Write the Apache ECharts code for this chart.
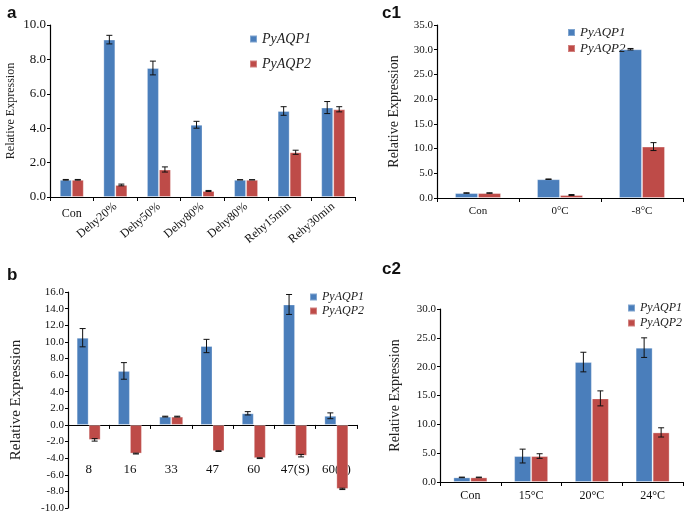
<!DOCTYPE html>
<html>
<head>
<meta charset="utf-8">
<script src="https://cdn.jsdelivr.net/npm/echarts@6/dist/echarts.min.js"></script>
<style>
  html, body { margin: 0; padding: 0; background: #fff; }
  #main { width: 685px; height: 516px; }
</style>
</head>
<body>
<div id="main"></div>
<script>
// panel a: dehydration / rehydration
var catA = ['Con', 'Dehy20%', 'Dehy50%', 'Dehy80%', 'Dehy80%', 'Rehy15min', 'Rehy30min'];
var a1 = [1.0, 9.15, 7.5, 4.2, 1.0, 5.0, 5.2];
var a1Err = [0.02, 0.25, 0.4, 0.2, 0.0, 0.25, 0.35];
var a2 = [1.0, 0.7, 1.6, 0.35, 1.0, 2.6, 5.1];
var a2Err = [0.02, 0.05, 0.15, 0.03, 0.0, 0.12, 0.15];

// panel b
var catB = ['8', '16', '33', '47', '60', '47(S)', '60(S)'];
var b1 = [10.5, 6.5, 1.0, 9.5, 1.4, 14.5, 1.1];
var b1Err = [1.1, 1.0, 0.05, 0.8, 0.2, 1.2, 0.35];
var b2 = [-1.8, -3.45, 1.0, -3.15, -4.0, -3.7, -7.7];
var b2Err = [0.15, 0.05, 0.05, 0.05, 0.05, 0.15, 0.08];

// panel c1: low temperature
var catC1 = ['Con', '0°C', '-8°C'];
var c11 = [1.0, 3.8, 30.1];
var c11Err = [0.05, 0.05, 0.15];
var c12 = [1.0, 0.6, 10.4];
var c12Err = [0.05, 0.1, 0.8];

// panel c2: high temperature
var catC2 = ['Con', '15°C', '20°C', '24°C'];
var c21 = [0.8, 4.5, 20.8, 23.3];
var c21Err = [0.05, 1.2, 1.7, 1.7];
var c22 = [0.8, 4.5, 14.5, 8.6];
var c22Err = [0.05, 0.4, 1.3, 0.8];

var BLUE = '#4a7ebb';
var RED = '#be4b48';
var SERIF = '"Liberation Serif", "DejaVu Serif", serif';

var chart = echarts.init(document.getElementById('main'));

function bar(name, vals, gi, color, w) {
    return {
        name: name,
        type: 'bar',
        xAxisIndex: gi,
        yAxisIndex: gi,
        data: vals,
        barWidth: w,
        barGap: '0%',
        itemStyle: { color: color, borderColor: 'rgba(255,255,255,0.3)', borderWidth: 1 },
        emphasis: { disabled: true },
        silent: true
    };
}

function errBars(vals, errs, gi, off) {
    return {
        type: 'custom',
        xAxisIndex: gi,
        yAxisIndex: gi,
        silent: true,
        z: 5,
        data: vals.map(function (v, i) { return [i, v, errs[i]]; }),
        encode: { x: 0, y: 1 },
        renderItem: function (params, api) {
            var i = api.value(0), v = api.value(1), e = api.value(2);
            var hi = api.coord([i, v + e]);
            var lo = api.coord([i, v - e]);
            var x = hi[0] + off;
            var st = { stroke: '#111', lineWidth: 1 };
            return {
                type: 'group',
                children: [
                    { type: 'line', shape: { x1: x, y1: hi[1], x2: x, y2: lo[1] }, style: st },
                    { type: 'line', shape: { x1: x - 3, y1: hi[1], x2: x + 3, y2: hi[1] }, style: st },
                    { type: 'line', shape: { x1: x - 3, y1: lo[1], x2: x + 3, y2: lo[1] }, style: st }
                ]
            };
        }
    };
}

function yAx(gi, min, max, step, fs, nameSize, nameGap) {
    return {
        type: 'value',
        gridIndex: gi,
        min: min, max: max, interval: step,
        name: 'Relative Expression',
        nameLocation: 'middle',
        nameGap: nameGap,
        nameTextStyle: { fontFamily: SERIF, fontSize: nameSize, color: '#222' },
        splitLine: { show: false },
        axisLine: { show: true, lineStyle: { color: '#000', width: 1.2 } },
        axisTick: { show: true, length: 3, lineStyle: { color: '#000' } },
        axisLabel: {
            fontFamily: SERIF, fontSize: fs, color: '#111', margin: 4,
            formatter: function (v) { return v.toFixed(1); }
        }
    };
}

function xAx(gi, cats, fs, extra) {
    var ax = {
        type: 'category',
        gridIndex: gi,
        position: 'bottom',
        data: cats,
        axisLine: { lineStyle: { color: '#000', width: 1.2 } },
        axisTick: { show: true, length: 4, lineStyle: { color: '#000' } },
        axisLabel: { fontFamily: SERIF, fontSize: fs, color: '#111', margin: 8 }
    };
    if (extra) {
        for (var k in extra) { ax.axisLabel[k] = extra[k]; }
    }
    return ax;
}

// label-only copy of a category axis (no line, no ticks)
function labelAx(gi, cats, fs, extra) {
    var ax = xAx(gi, cats, fs, extra);
    ax.axisLine = { show: false, onZero: false };
    ax.axisTick = { show: false };
    return ax;
}

function leg(left, top, gap, fs) {
    return {
        data: ['PyAQP1', 'PyAQP2'],
        orient: 'vertical',
        left: left, top: top,
        padding: 0,
        itemWidth: 7, itemHeight: 7, itemGap: gap,
        icon: 'rect',
        selectedMode: false,
        textStyle: { fontFamily: SERIF, fontStyle: 'italic', fontSize: fs, color: '#222' }
    };
}

var panelTitle = { fontFamily: 'Liberation Sans, Arial, sans-serif', fontWeight: 'bold', fontSize: 17, color: '#111' };

var xA = xAx(0, catA, 12, {
    rotate: 40, margin: 8,
    formatter: function (v, i) { return i === 0 ? '' : v; }
});
// "Con" stays horizontal in the original
var xA2 = labelAx(0, catA, 12, {
    margin: 11,
    formatter: function (v, i) { return i === 0 ? v : ''; }
});

var xB = xAx(1, catB, 13, { show: false });
// panel b labels sit below the zero line, around -5
var xB2 = labelAx(1, catB, 13, { margin: -45 });

var option = {
    animation: false,
    backgroundColor: '#fff',
    title: [
        { text: 'a', left: 2, top: 0, textStyle: panelTitle },
        { text: 'b', left: 2, top: 262, textStyle: panelTitle },
        { text: 'c1', left: 377, top: 0, textStyle: panelTitle },
        { text: 'c2', left: 377, top: 256, textStyle: panelTitle }
    ],
    legend: [
        leg(249, 32, 11, 14),
        leg(309, 291, 2, 12),
        leg(567, 26, 3, 13),
        leg(627, 302, 3, 12)
    ],
    grid: [
        { left: 50, right: 330, top: 25, bottom: 319, outerBoundsMode: 'none' },
        { left: 68, right: 328, top: 292, bottom: 8, outerBoundsMode: 'none' },
        { left: 437, right: 2, top: 25, bottom: 318, outerBoundsMode: 'none' },
        { left: 440, right: 2, top: 309, bottom: 34, outerBoundsMode: 'none' }
    ],
    xAxis: [
        xA,
        xB,
        xAx(2, catC1, 11),
        xAx(3, catC2, 12),
        xA2,
        xB2
    ],
    yAxis: [
        yAx(0, 0, 10, 2, 13, 12, 33),
        yAx(1, -10, 16, 2, 11, 15, 44),
        yAx(2, 0, 35, 5, 11, 14, 36),
        yAx(3, 0, 30, 5, 11, 14, 38)
    ],
    series: [
        bar('PyAQP1', a1, 0, BLUE, 12),
        bar('PyAQP2', a2, 0, RED, 12),
        errBars(a1, a1Err, 0, -6),
        errBars(a2, a2Err, 0, 6),

        bar('PyAQP1', b1, 1, BLUE, 12),
        bar('PyAQP2', b2, 1, RED, 12),
        errBars(b1, b1Err, 1, -6),
        errBars(b2, b2Err, 1, 6),

        bar('PyAQP1', c11, 2, BLUE, 23),
        bar('PyAQP2', c12, 2, RED, 23),
        errBars(c11, c11Err, 2, -11.5),
        errBars(c12, c12Err, 2, 11.5),

        bar('PyAQP1', c21, 3, BLUE, 17),
        bar('PyAQP2', c22, 3, RED, 17),
        errBars(c21, c21Err, 3, -8.5),
        errBars(c22, c22Err, 3, 8.5)
    ]
};

chart.setOption(option);
</script>
</body>
</html>
